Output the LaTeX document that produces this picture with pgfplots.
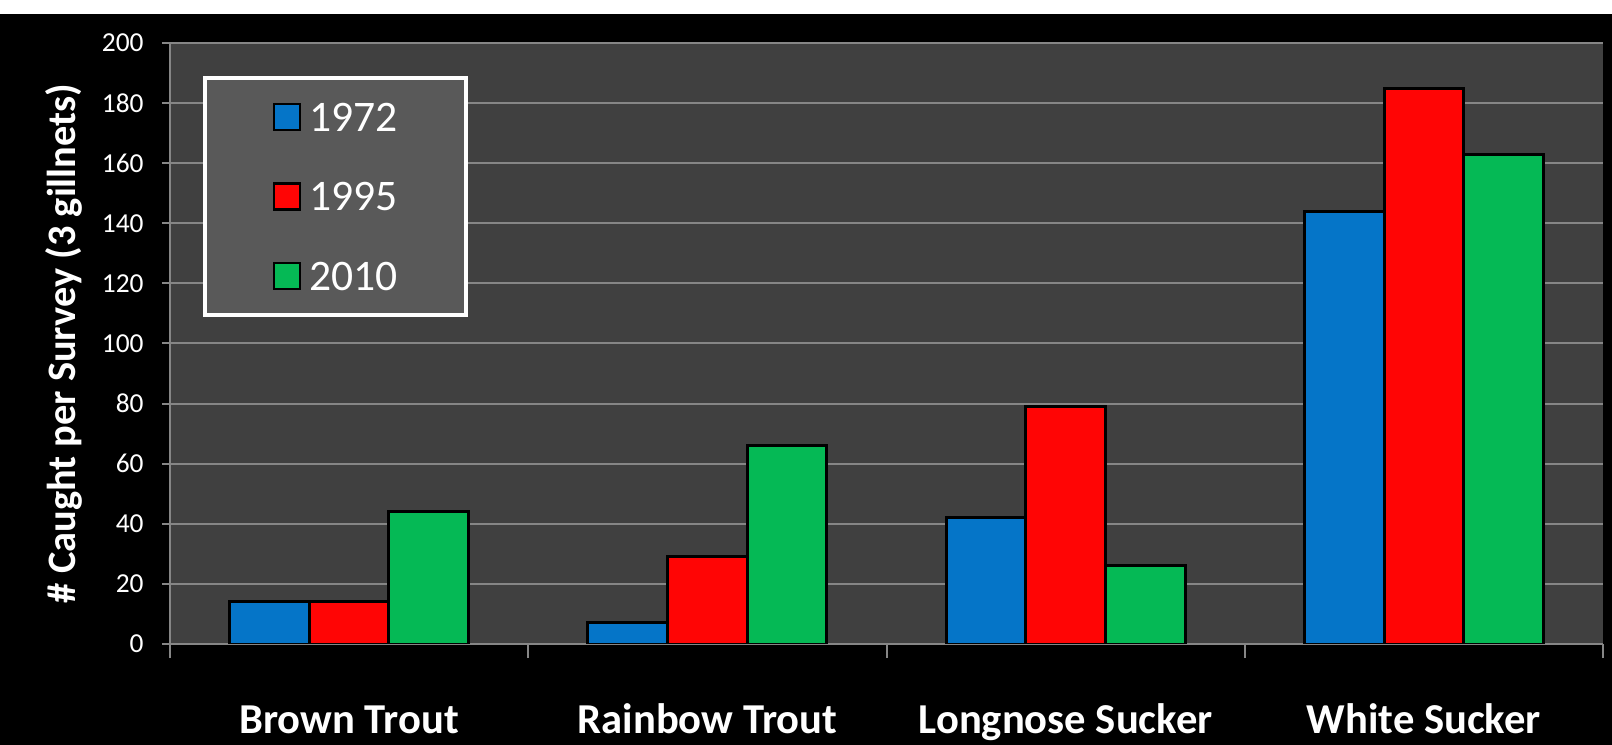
\documentclass[border=0pt]{standalone}
\usepackage{pgfplots}
\pgfplotsset{compat=1.18}
\usepackage{fontspec}
\setmainfont{Carlito}
\definecolor{c1972}{RGB}{5,117,200}
\definecolor{c1995}{RGB}{255,5,5}
\definecolor{c2010}{RGB}{5,185,85}
\definecolor{plotbg}{RGB}{64,64,64}
\definecolor{legbg}{RGB}{89,89,89}
\definecolor{gridc}{RGB}{134,134,134}
\begin{document}
\begin{tikzpicture}
\fill[black] (0,0) rectangle (806bp,372.5bp);
\fill[white] (0,365.5bp) rectangle (806bp,372.5bp);
\begin{axis}[
  at={(85bp,50.5bp)}, anchor=south west,
  scale only axis, width=716.5bp, height=300.5bp,
  xmin=-0.5, xmax=3.5, ymin=0, ymax=200,
  ybar=0pt, bar width=0.2222,
  axis background/.style={fill=plotbg},
  axis lines*=left,
  axis line style={draw=gridc, line width=1bp},
  ytick={0,20,...,200},
  ymajorgrids, major grid style={draw=gridc, line width=1bp},
  xtick={0,1,2,3},
  xticklabels={Brown Trout, Rainbow Trout, Longnose Sucker, White Sucker},
  minor xtick={-0.5,0.5,1.5,2.5,3.5},
  major x tick style={draw=none},
  xticklabel style={font=\bfseries\fontsize{21.3bp}{25bp}\selectfont, text=white, anchor=base, inner sep=0pt, yshift=-40.5bp},
  tick align=outside,
  major tick length=4bp,
  minor tick length=7bp,
  tick style={draw=gridc, line width=1bp},
  /pgf/number format/assume math mode=true,
  yticklabel style={font=\fontsize{13.7bp}{16bp}\selectfont, text=white, anchor=east, inner sep=0pt, xshift=-9bp},
  ylabel={\# Caught per Survey (3 gillnets)},
  every axis y label/.style={at={(axis description cs:-0.074,0.5)}, rotate=90, anchor=center},
  ylabel style={font=\bfseries\fontsize{20.2bp}{24bp}\selectfont, text=white},
  legend style={at={(0.023,0.945)}, anchor=north west, fill=legbg, draw=white, line width=2bp,
    inner xsep=34bp, inner ysep=12.5bp, row sep=25.5bp,
    font=\fontsize{21.8bp}{25bp}\selectfont, text=white,
    nodes={inner sep=0pt, text height=14bp, text depth=0bp},
    cells={anchor=west}},
  legend image code/.code={\draw[#1, line width=1.2bp, draw=black] (0bp,-6.5bp) rectangle (13bp,6.5bp); \path[draw=none, fill=none] (0bp,0bp) -- (17.5bp,0bp);},
]
\addplot[fill=c1972, draw=black, line width=1.5bp] coordinates {(0,14) (1,7) (2,42) (3,144)};
\addplot[fill=c1995, draw=black, line width=1.5bp] coordinates {(0,14) (1,29) (2,79) (3,185)};
\addplot[fill=c2010, draw=black, line width=1.5bp] coordinates {(0,44) (1,66) (2,26) (3,163)};
\legend{1972,1995,2010}
\end{axis}
\pgfresetboundingbox
\useasboundingbox (0,0) rectangle (806bp,372.5bp);
\end{tikzpicture}
\end{document}
